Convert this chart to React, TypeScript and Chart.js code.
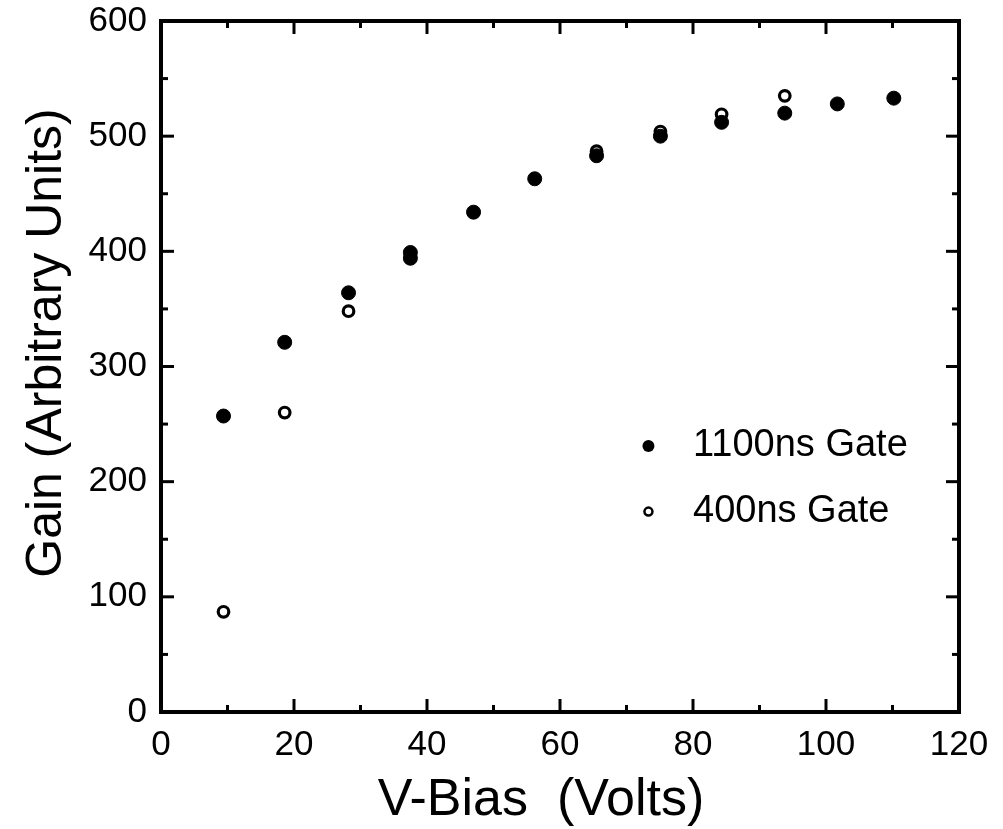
import { useEffect, useRef } from "react";
import { Chart, registerables } from "chart.js";

Chart.register(...registerables);

// ---- data ----
const gate1100X = [9.4, 18.6, 28.2, 37.5, 37.5, 47.0, 56.2, 65.5, 75.1, 84.3, 93.8, 101.7, 110.2];
const gate1100Y = [257, 321, 364, 399, 394, 434, 463, 483, 500, 512, 520, 528, 533];
const gate400X = [9.4, 18.6, 28.2, 65.5, 75.1, 84.3, 93.8];
const gate400Y = [87, 260, 348, 487, 504, 519, 535];

const seriesLabels = ["1100ns Gate", "400ns Gate"];
const xTickValues = [0, 20, 40, 60, 80, 100, 120];
const yTickValues = [0, 100, 200, 300, 400, 500, 600];
const xTitle = "V-Bias  (Volts)";
const yTitle = "Gain (Arbitrary Units)";

const FONT = "'Liberation Sans', Arial, Helvetica, sans-serif";

const framePlugin = {
  id: "frameTicks",
  beforeDatasetsDraw(chart: any) {
    const { ctx, chartArea: a, scales } = chart;
    const xs = scales.x;
    const ys = scales.y;
    ctx.save();
    ctx.strokeStyle = "#000";
    ctx.lineCap = "butt";
    ctx.lineWidth = 4;
    ctx.strokeRect(a.left, a.top, a.right - a.left, a.bottom - a.top);
    ctx.lineWidth = 3;
    const seg = (x1: number, y1: number, x2: number, y2: number) => {
      ctx.beginPath();
      ctx.moveTo(x1, y1);
      ctx.lineTo(x2, y2);
      ctx.stroke();
    };
    const xStep = xTickValues[1] - xTickValues[0];
    for (let i = 0; i < xTickValues.length; i++) {
      const v = xTickValues[i];
      const px = xs.getPixelForValue(v);
      seg(px, a.bottom, px, a.bottom - 13);
      seg(px, a.top, px, a.top + 13);
      if (i < xTickValues.length - 1) {
        const m = xs.getPixelForValue(v + xStep / 2);
        seg(m, a.bottom, m, a.bottom - 7);
        seg(m, a.top, m, a.top + 7);
      }
    }
    const yStep = yTickValues[1] - yTickValues[0];
    for (let i = 0; i < yTickValues.length; i++) {
      const v = yTickValues[i];
      const py = ys.getPixelForValue(v);
      seg(a.left, py, a.left + 13, py);
      seg(a.right, py, a.right - 13, py);
      if (i < yTickValues.length - 1) {
        const m = ys.getPixelForValue(v + yStep / 2);
        seg(a.left, m, a.left + 7, m);
        seg(a.right, m, a.right - 7, m);
      }
    }
    ctx.restore();
  },
  afterDraw(chart: any) {
    const { ctx } = chart;
    ctx.save();
    ctx.fillStyle = "#000";
    ctx.textAlign = "center";
    ctx.textBaseline = "alphabetic";
    // x-axis title
    ctx.font = `52px ${FONT}`;
    ctx.fillText(xTitle, 541, 815);
    // y-axis title (rotated)
    ctx.translate(61, 343);
    ctx.rotate(-Math.PI / 2);
    ctx.font = `50px ${FONT}`;
    ctx.fillText(yTitle, 0, 0);
    ctx.restore();
  },
};

const legendPlugin = {
  id: "insideLegend",
  afterDatasetsDraw(chart: any) {
    const { ctx, scales } = chart;
    const xs = scales.x;
    const ys = scales.y;
    const mx = xs.getPixelForValue(73.3);
    const tx = xs.getPixelForValue(80.0);
    const rows = [ys.getPixelForValue(231), ys.getPixelForValue(174)];
    ctx.save();
    ctx.fillStyle = "#000";
    ctx.strokeStyle = "#000";
    ctx.beginPath();
    ctx.arc(mx, rows[0], 6, 0, Math.PI * 2);
    ctx.fill();
    ctx.lineWidth = 2.5;
    ctx.beginPath();
    ctx.arc(mx, rows[1], 4, 0, Math.PI * 2);
    ctx.stroke();
    ctx.font = `38px ${FONT}`;
    ctx.textAlign = "left";
    ctx.textBaseline = "middle";
    ctx.fillText(seriesLabels[0], tx, rows[0]);
    ctx.fillText(seriesLabels[1], tx, rows[1]);
    ctx.restore();
  },
};

export default function App() {
  const ref = useRef<HTMLCanvasElement | null>(null);

  useEffect(() => {
    if (!ref.current) return;
    const filled = gate1100X.map((x, i) => ({ x, y: gate1100Y[i] }));
    const open = gate400X.map((x, i) => ({ x, y: gate400Y[i] }));
    const chart = new Chart(ref.current, {
      type: "scatter",
      data: {
        datasets: [
          {
            label: seriesLabels[0],
            data: filled,
            pointStyle: "circle",
            pointRadius: 7,
            pointBackgroundColor: "#000",
            pointBorderColor: "#000",
            pointBorderWidth: 1,
          },
          {
            label: seriesLabels[1],
            data: open,
            pointStyle: "circle",
            pointRadius: 5.3,
            pointBackgroundColor: "#fff",
            pointBorderColor: "#000",
            pointBorderWidth: 3.2,
          },
        ],
      },
      options: {
        responsive: false,
        animation: false,
        layout: { padding: { left: 0, top: 21, right: 44, bottom: 0 } },
        plugins: {
          legend: { display: false },
          tooltip: { enabled: false },
        },
        scales: {
          x: {
            type: "linear",
            min: 0,
            max: 120,
            border: { display: false },
            grid: { display: false, drawTicks: false },
            ticks: {
              stepSize: 20,
              color: "#000",
              padding: 12,
              maxRotation: 0,
              font: { family: FONT, size: 35 },
            },
            title: { display: false, text: xTitle },
            afterFit: (s: any) => {
              s.height = 117;
              s.paddingLeft = 0;
              s.paddingRight = 0;
            },
          },
          y: {
            type: "linear",
            min: 0,
            max: 600,
            border: { display: false },
            grid: { display: false, drawTicks: false },
            ticks: {
              stepSize: 100,
              color: "#000",
              padding: 14,
              font: { family: FONT, size: 35 },
            },
            title: { display: false, text: yTitle },
            afterFit: (s: any) => {
              s.width = 161;
              s.paddingTop = 0;
              s.paddingBottom = 0;
            },
          },
        },
      },
      plugins: [framePlugin, legendPlugin],
    });
    return () => chart.destroy();
  }, []);

  return (
    <div style={{ position: "absolute", left: 0, top: 0, width: 1003, height: 829, background: "#fff" }}>
      <canvas ref={ref} width={1003} height={829} style={{ display: "block" }} />
    </div>
  );
}
